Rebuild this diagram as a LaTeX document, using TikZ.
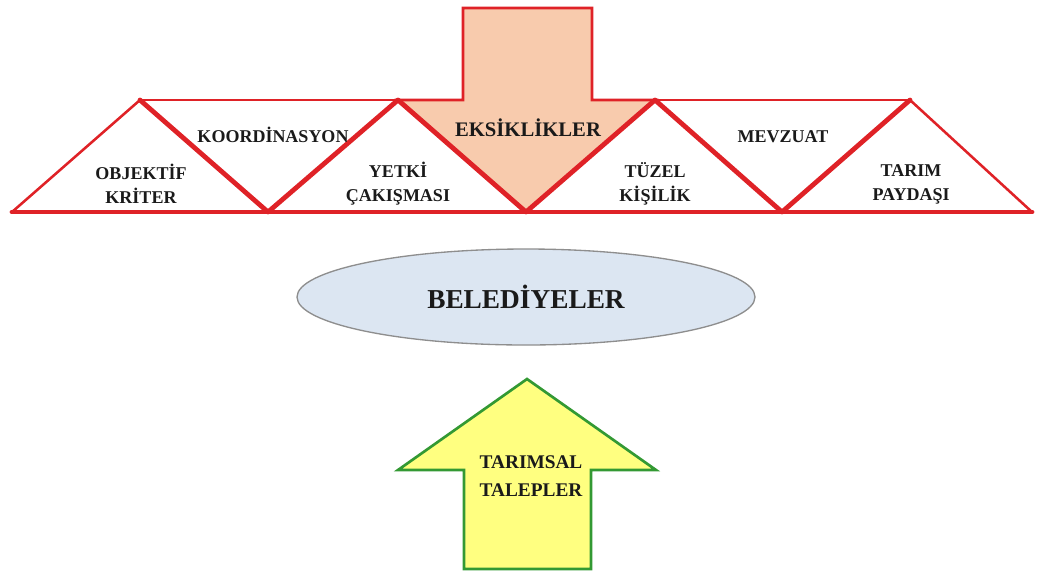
\documentclass[tikz,border=0pt]{standalone}
\usepackage{fontspec}
\setmainfont{Liberation Serif}
\usetikzlibrary{shapes.geometric}
\definecolor{tred}{HTML}{DF2227}
\definecolor{peach}{HTML}{F8CBAD}
\definecolor{lblue}{HTML}{DCE6F2}
\definecolor{egray}{HTML}{8E8E8E}
\definecolor{yel}{HTML}{FFFF80}
\definecolor{grn}{HTML}{339933}
\definecolor{txt}{HTML}{1A1A1A}
\tikzset{
  thinred/.style={draw=tred,line width=1.9pt,line join=round,line cap=round},
  thickred/.style={draw=tred,line width=3.6pt,line join=round,line cap=round},
  lbl/.style={text=txt,font=\fontsize{13.5}{18}\selectfont\bfseries,align=center,inner sep=0pt},
  biglbl/.style={text=txt,font=\fontsize{15.5}{20}\selectfont\bfseries,align=center,inner sep=0pt},
}
\begin{document}
\begin{tikzpicture}[x=0.75pt,y=-0.75pt]
\useasboundingbox (0,0) rectangle (1037,572);
% vertices
\coordinate (L) at (12,212);
\coordinate (A1) at (140,100);
\coordinate (V1) at (268,212);
\coordinate (A2) at (398,100);
\coordinate (T) at (526,212);
\coordinate (A3) at (655,100);
\coordinate (V2) at (782,212);
\coordinate (A4) at (910,100);
\coordinate (R) at (1032,212);
% down arrow
\filldraw[fill=peach,draw=tred,line width=2pt,line join=miter]
  (A2) -- (463,100) -- (463,8) -- (592,8) -- (592,100) -- (A3) -- (T) -- cycle;
% frame
\draw[thickred] (L) -- (R);
\draw[thinred] (A1) -- (A2);
\draw[thinred] (A3) -- (A4);
\draw[thinred] (L) -- (A1);
\draw[thinred] (A4) -- (R);
\draw[thickred] (A1) -- (V1) -- (A2) -- (T) -- (A3) -- (V2) -- (A4);
% labels
\node[lbl] (objektif) at (141,184) {OBJEKTİF\\KRİTER};
\node[lbl] (koord) at (273,135) {KOORDİNASYON};
\node[lbl] (yetki) at (398,184) {YETKİ\\ÇAKIŞMASI};
\node[biglbl] (eksik) at (528,128) {EKSİKLİKLER};
\node[lbl] (tuzel) at (655,184) {TÜZEL\\KİŞİLİK};
\node[lbl] (mevzuat) at (783,137) {MEVZUAT};
\node[lbl] (tarim) at (911,184) {TARIM\\PAYDAŞI};
% ellipse
\node[ellipse,draw=egray,fill=lblue,line width=1pt,minimum width=343.5pt,minimum height=72pt,inner sep=0pt]
  (bel) at (526,297) {};
\node[text=txt,font=\fontsize{20.5}{24}\selectfont\bfseries] at (bel.center) {BELEDİYELER};
% up arrow
\filldraw[fill=yel,draw=grn,line width=2pt,line join=miter]
  (527,379) -- (656,470) -- (591,470) -- (591,569) -- (464,569) -- (464,470) -- (398,470) -- cycle;
\node[text=txt,font=\fontsize{14.5}{21}\selectfont\bfseries,align=center,inner sep=0pt] (talep) at (531,476) {TARIMSAL\\TALEPLER};
\end{tikzpicture}
\end{document}
